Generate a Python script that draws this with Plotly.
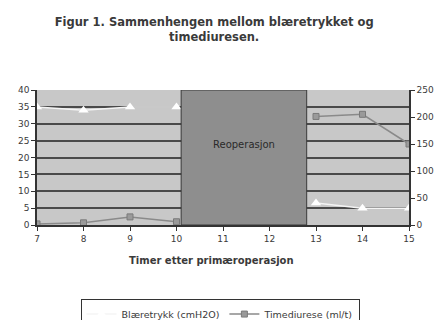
import plotly.graph_objects as go

# Hours after the primary operation
timer = [7, 8, 9, 10, 11, 12, 13, 14, 15]
# Bladder pressure (cmH2O), left axis; no readings during reoperation
blaeretrykk = [35, 34, 35, 35, None, None, 6.5, 5, 5]
# Hourly diuresis (ml/t), right axis
timediurese = [2, 4, 15, 6, None, None, 201, 205, 150]

reop_start, reop_end = 10.1, 12.8

FONT = "DejaVu Sans"
TXT = "#3a3a3a"

fig = go.Figure()

fig.add_trace(go.Scatter(
    x=timer, y=blaeretrykk, name="Blæretrykk (cmH2O)",
    mode="lines+markers",
    line=dict(color="#f4f4f4", width=1.5),
    marker=dict(symbol="triangle-up", size=9, color="#ffffff"),
    yaxis="y", connectgaps=False,
))

fig.add_trace(go.Scatter(
    x=timer, y=timediurese, name="Timediurese (ml/t)",
    mode="lines+markers",
    line=dict(color="#8a8a8a", width=1.5),
    marker=dict(symbol="square", size=6, color="#9a9a9a",
                line=dict(color="#7a7a7a", width=1)),
    yaxis="y2", connectgaps=False,
))

# Reoperation block
fig.add_shape(type="rect", xref="x", yref="y",
              x0=reop_start, x1=reop_end, y0=0, y1=40,
              fillcolor="#8e8e8e", line=dict(color="#3a3a3a", width=1),
              layer="above")
fig.add_annotation(x=(reop_start + reop_end) / 2, y=24, xref="x", yref="y",
                   text="Reoperasjon", showarrow=False,
                   font=dict(family=FONT, size=10, color="#2a2a2a"))

# x-axis title
fig.add_annotation(x=0.47, y=-0.318, xref="paper", yref="paper",
                   text="<b>Timer etter primæroperasjon</b>", showarrow=False,
                   font=dict(family=FONT, size=10, color=TXT))

fig.update_layout(
    width=437, height=320,
    margin=dict(l=37, r=28, t=90, b=95, autoexpand=False),
    paper_bgcolor="#ffffff",
    plot_bgcolor="#c8c8c8",
    title=dict(
        text="<b>Figur 1. Sammenhengen mellom blæretrykket og<br>timediuresen.</b>",
        x=0.49, xref="container", xanchor="center",
        y=0.92, yref="container", yanchor="middle",
        font=dict(family=FONT, size=11.5, color=TXT),
    ),
    xaxis=dict(
        range=[7, 15], tickvals=timer, ticktext=[str(t) for t in timer],
        showgrid=False, zeroline=False,
        showline=True, linecolor="#333333", linewidth=1.5,
        ticks="outside", ticklen=4, tickcolor="#333333",
        tickfont=dict(family=FONT, size=9, color=TXT),
    ),
    yaxis=dict(
        range=[0, 40], dtick=5,
        showgrid=True, gridcolor="#4a4a4a", gridwidth=1.5,
        zeroline=False, showline=True, linecolor="#333333", linewidth=1.5,
        ticks="outside", ticklen=4, tickcolor="#333333",
        tickfont=dict(family=FONT, size=9, color=TXT),
    ),
    yaxis2=dict(
        range=[0, 250], dtick=50, overlaying="y", side="right",
        showgrid=False, zeroline=False,
        showline=True, linecolor="#333333", linewidth=1.5,
        ticks="outside", ticklen=4, tickcolor="#333333",
        tickfont=dict(family=FONT, size=9, color=TXT),
    ),
    legend=dict(
        orientation="h", x=0.492, xanchor="center", y=-0.545, yanchor="top",
        bgcolor="#ffffff", bordercolor="#333333", borderwidth=1,
        font=dict(family=FONT, size=9.5, color=TXT),
    ),
)

fig.write_html("out.html")
